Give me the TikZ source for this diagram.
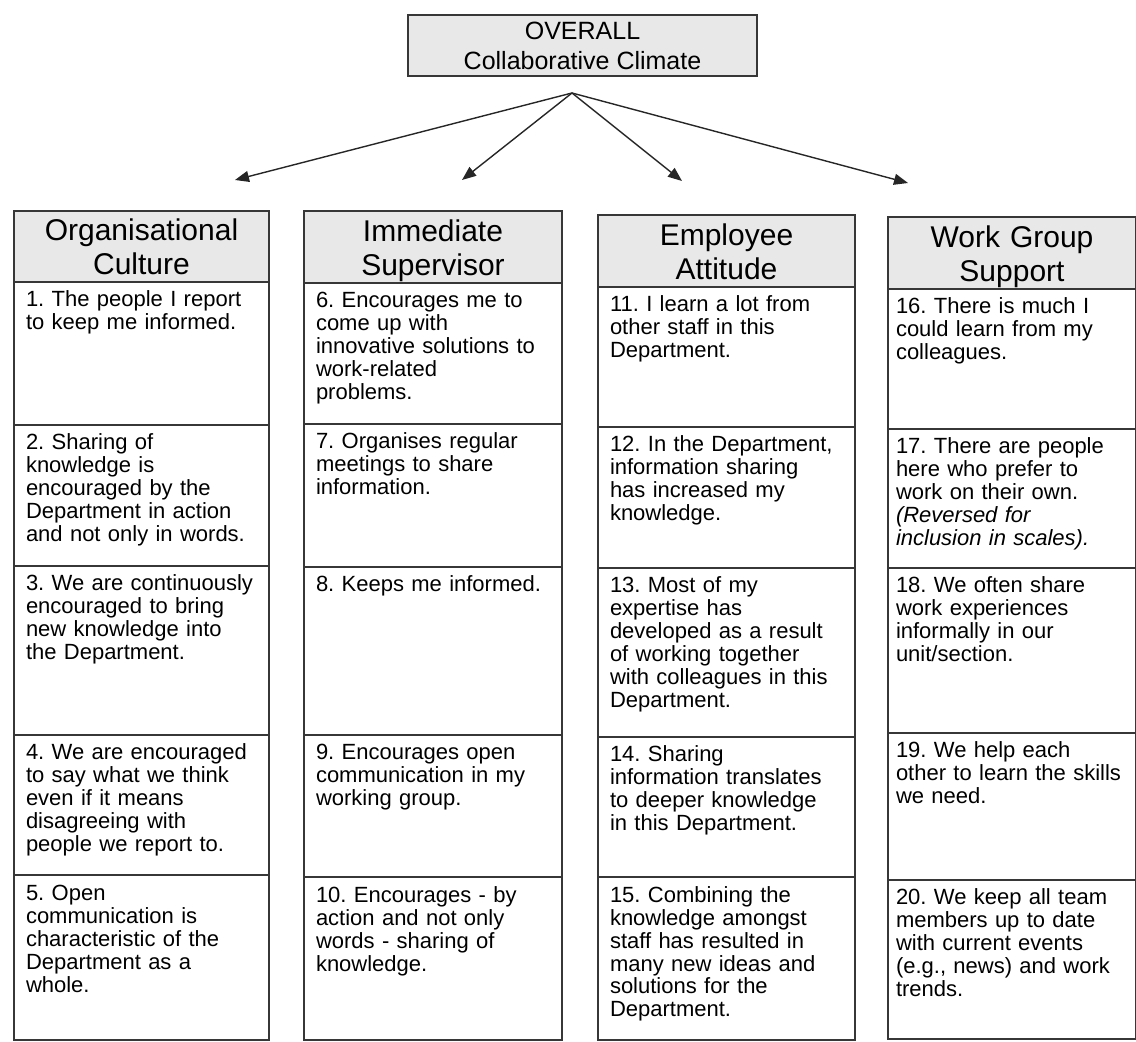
\documentclass[tikz,border=0pt]{standalone}
\usepackage{fontspec}
\setmainfont{Liberation Sans}
\usepackage{tikz}
\usetikzlibrary{positioning,arrows.meta}
\definecolor{headfill}{RGB}{232,232,232}
\definecolor{rulegray}{RGB}{55,55,55}
\newcommand{\itemfont}{\fontsize{11}{11.5}\selectfont}
\newcommand{\headfont}{\fontsize{15}{17}\selectfont}
\newcommand{\overallfont}{\fontsize{12.5}{15}\selectfont}
\frenchspacing

\begin{document}
\begin{tikzpicture}[
  x=0.5pt, y=-0.5pt,
  box/.style={draw=rulegray, line width=0.6pt, outer sep=0pt},
  head/.style={box, fill=headfill, font=\headfont, align=center, inner sep=0pt, anchor=north west, text width=#1, text height=13pt, text depth=18.5pt, minimum height=36pt},
  item/.style={box, font=\itemfont, align=left, inner xsep=6pt, inner ysep=3pt, text width=#1, text height=9.5pt},
  edge/.style={-{Triangle[length=7pt,width=5.5pt]}, line width=0.7pt, draw=black!85},
  node distance=0pt
]
\useasboundingbox (0,0) rectangle (1136,1042);

% top of the tree
\node[box, fill=headfill, font=\overallfont, align=center, minimum width=174.5pt, minimum height=30.5pt, inner sep=0pt] (overall) at (582.5,45.5) {OVERALL\\Collaborative Climate};
\coordinate (hub) at (572,93);
\coordinate (t1) at (235,180);
\coordinate (t2) at (462,180);
\coordinate (t3) at (682,181);
\coordinate (t4) at (908,183);
\draw[edge] (hub) -- (t1);
\draw[edge] (hub) -- (t2);
\draw[edge] (hub) -- (t3);
\draw[edge] (hub) -- (t4);

% Organisational Culture
\node[head=127.5pt, minimum height=35.5pt] (h1) at (14,211) {Organisational\\Culture};
\node[item=115.5pt, text depth=56pt, below=of h1] (q1) {1. The people I report\\to keep me informed.};
\node[item=115.5pt, text depth=55pt, below=of q1] (q2) {2. Sharing of\\knowledge is\\encouraged by the\\Department in action\\and not only in words.};
\node[item=115.5pt, text depth=69pt, below=of q2] (q3) {3. We are continuously\\encouraged to bring\\new knowledge into\\the Department.};
\node[item=115.5pt, text depth=54.5pt, below=of q3] (q4) {4. We are encouraged\\to say what we think\\even if it means\\disagreeing with\\people we report to.};
\node[item=115.5pt, text depth=67pt, below=of q4] (q5) {5. Open\\communication is\\characteristic of the\\Department as a\\whole.};

% Immediate Supervisor
\node[head=129pt] (h2) at (304,211) {Immediate\\Supervisor};
\node[item=117pt, text depth=55pt, below=of h2] (q6) {6. Encourages me to\\come up with\\innovative solutions to\\work-related\\problems.};
\node[item=117pt, text depth=56pt, below=of q6] (q7) {7. Organises regular\\meetings to share\\information.};
\node[item=117pt, text depth=68.5pt, below=of q7] (q8) {8. Keeps me informed.};
\node[item=117pt, text depth=55.5pt, below=of q8] (q9) {9. Encourages open\\communication in my\\working group.};
\node[item=117pt, text depth=66pt, below=of q9] (q10) {10. Encourages - by\\action and not only\\words - sharing of\\knowledge.};

% Employee Attitude
\node[head=128.5pt] (h3) at (598,215) {Employee\\Attitude};
\node[item=116.5pt, text depth=54.5pt, below=of h3] (q11) {11. I learn a lot from\\other staff in this\\Department.};
\node[item=116.5pt, text depth=55pt, below=of q11] (q12) {12. In the Department,\\information sharing\\has increased my\\knowledge.};
\node[item=116.5pt, text depth=69pt, below=of q12] (q13) {13. Most of my\\expertise has\\developed as a result\\of working together\\with colleagues in this\\Department.};
\node[item=116.5pt, text depth=54.5pt, below=of q13] (q14) {14. Sharing\\information translates\\to deeper knowledge\\in this Department.};
\node[item=116.5pt, text depth=66pt, below=of q14] (q15) {15. Combining the\\knowledge amongst\\staff has resulted in\\many new ideas and\\solutions for the\\Department.};

% Work Group Support
\node[head=124pt] (h4) at (888,217) {Work Group\\Support};
\node[item=116pt, inner xsep=4pt, text depth=54.5pt, below=of h4] (q16) {16. There is much I\\could learn from my\\colleagues.};
\node[item=116pt, inner xsep=4pt, text depth=54pt, below=of q16] (q17) {17. There are people\\here who prefer to\\work on their own.\\\textit{(Reversed for}\\\textit{inclusion in scales).}};
\node[item=116pt, inner xsep=4pt, text depth=67pt, below=of q17] (q18) {18. We often share\\work experiences\\informally in our\\unit/section.};
\node[item=116pt, inner xsep=4pt, text depth=58pt, below=of q18] (q19) {19. We help each\\other to learn the skills\\we need.};
\node[item=116pt, inner xsep=4pt, text depth=64pt, below=of q19] (q20) {20. We keep all team\\members up to date\\with current events\\(e.g., news) and work\\trends.};
\end{tikzpicture}
\end{document}
